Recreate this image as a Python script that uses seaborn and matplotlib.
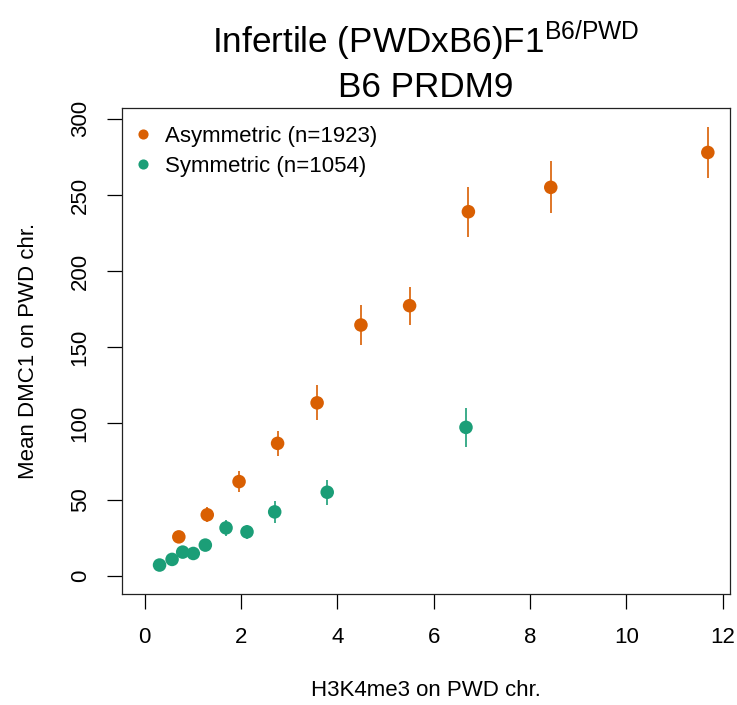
import matplotlib
matplotlib.use("Agg")
import matplotlib.pyplot as plt
import seaborn as sns
import pandas as pd

# ---- data ----
asym_x = [0.71, 1.30, 1.96, 2.76, 3.58, 4.49, 5.50, 6.72, 8.43, 11.69]
asym_y = [25.5, 40.0, 61.8, 86.9, 113.5, 164.6, 177.3, 239.0, 255.0, 277.9]
asym_err = [3.7, 5.0, 7.0, 8.4, 11.5, 13.0, 12.5, 16.5, 17.0, 17.0]

sym_x = [0.31, 0.57, 0.79, 1.01, 1.26, 1.69, 2.125, 2.70, 3.79, 6.67]
sym_y = [7.0, 10.7, 15.5, 14.6, 20.1, 31.4, 28.8, 41.9, 54.8, 97.4]
sym_err = [1.2, 1.5, 2.0, 2.0, 2.5, 5.5, 4.5, 7.0, 8.3, 12.7]

groups = ["Asymmetric (n=1923)", "Symmetric (n=1054)"]
colors = ["#D95F02", "#1B9E77"]
x_ticks = [0, 2, 4, 6, 8, 10, 12]
y_ticks = [0, 50, 100, 150, 200, 250, 300]

df = pd.DataFrame({
    "x": asym_x + sym_x,
    "y": asym_y + sym_y,
    "err": asym_err + sym_err,
    "group": [groups[0]] * len(asym_x) + [groups[1]] * len(sym_x),
})

plt.rcParams["font.family"] = ["Liberation Sans", "DejaVu Sans"]
plt.rcParams["mathtext.fontset"] = "custom"
plt.rcParams["mathtext.rm"] = "Liberation Sans"
plt.rcParams["mathtext.it"] = "Liberation Sans"

fig = plt.figure(figsize=(7.37, 7.05), dpi=100)
ax = fig.add_axes([0.1655, 0.1579, 0.8250, 0.6885])

palette = dict(zip(groups, colors))
for g in groups:
    sub = df[df["group"] == g]
    ax.vlines(sub["x"], sub["y"] - sub["err"], sub["y"] + sub["err"],
              color=palette[g], linewidth=1.2, zorder=2)

sns.scatterplot(data=df, x="x", y="y", hue="group", palette=palette,
                s=95, linewidth=0, ax=ax, zorder=3, legend=True)

ax.set_xlim(-0.47, 12.15)
ax.set_ylim(-11.8, 306.9)
ax.set_xticks(x_ticks)
ax.set_yticks(y_ticks)
ax.tick_params(axis="both", direction="out", length=10.5, width=0.9,
               labelsize=16, pad=12, colors="black")
ax.tick_params(axis="x", pad=13.5)
for lbl in ax.get_yticklabels():
    lbl.set_rotation(90)
    lbl.set_va("center")
for sp in ax.spines.values():
    sp.set_linewidth(0.9)
    sp.set_color("#222222")

ax.set_xlabel("")
ax.set_ylabel("")
fig.text(0.578, 0.021, "H3K4me3 on PWD chr.", ha="center", va="center", fontsize=16)
fig.text(0.038, 0.502, "Mean DMC1 on PWD chr.", ha="center", va="center",
         rotation=90, fontsize=16)

fig.text(0.578, 0.924, r"Infertile (PWDxB6)F1$^{\mathrm{B6/PWD}}$", ha="center",
         va="baseline", fontsize=25.3)
fig.text(0.578, 0.862, "B6 PRDM9", ha="center", va="baseline", fontsize=25.3)

handles, labels = ax.get_legend_handles_labels()
ax.legend(handles, labels, loc="upper left", bbox_to_anchor=(-0.0164, 0.995),
          frameon=False, fontsize=16, markerscale=0.75, handletextpad=0.3,
          labelspacing=0.38, borderaxespad=0.3, handlelength=1.4)

fig.savefig("out.png", dpi=100)
